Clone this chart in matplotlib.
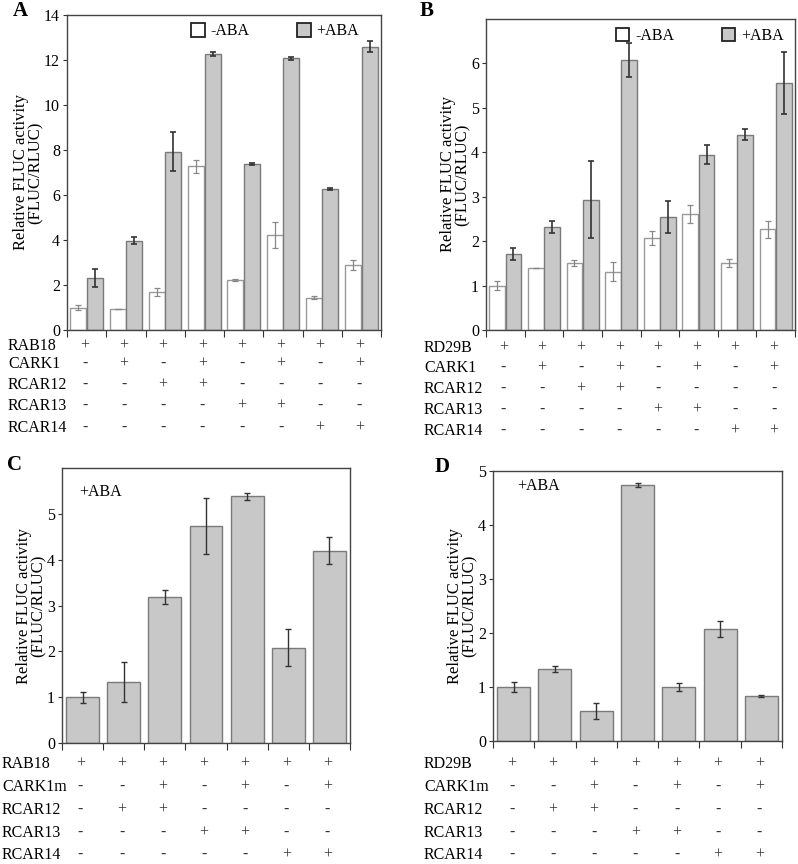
import numpy as np
import matplotlib
matplotlib.use("Agg")
import matplotlib.pyplot as plt
from matplotlib.patches import Patch
from matplotlib.transforms import blended_transform_factory

plt.rcParams['font.family'] = ['Liberation Serif', 'DejaVu Serif']

# panel A: RAB18 promoter, -ABA / +ABA
a_minus = [1.0, 0.92, 1.68, 7.28, 2.22, 4.22, 1.44, 2.90]
a_minus_err = [0.10, 0.0, 0.18, 0.28, 0.03, 0.56, 0.05, 0.22]
a_plus = [2.32, 3.97, 7.92, 12.26, 7.38, 12.07, 6.27, 12.60]
a_plus_err = [0.40, 0.15, 0.87, 0.10, 0.05, 0.08, 0.05, 0.25]
a_rows = ['RAB18', 'CARK1', 'RCAR12', 'RCAR13', 'RCAR14']
a_signs = [
    '++++++++',
    '-+-+-+-+',
    '--++----',
    '----++--',
    '------++',
]

# panel B: RD29B promoter, -ABA / +ABA
b_minus = [1.0, 1.39, 1.50, 1.31, 2.07, 2.61, 1.50, 2.27]
b_minus_err = [0.10, 0.0, 0.07, 0.21, 0.15, 0.20, 0.09, 0.19]
b_plus = [1.71, 2.32, 2.93, 6.08, 2.54, 3.95, 4.40, 5.56]
b_plus_err = [0.13, 0.13, 0.87, 0.38, 0.36, 0.21, 0.12, 0.70]
b_rows = ['RD29B', 'CARK1', 'RCAR12', 'RCAR13', 'RCAR14']
b_signs = a_signs

# panel C: RAB18 promoter, CARK1m, +ABA
c_vals = [1.0, 1.33, 3.18, 4.73, 5.38, 2.08, 4.20]
c_err = [0.12, 0.44, 0.15, 0.61, 0.08, 0.40, 0.30]
c_rows = ['RAB18', 'CARK1m', 'RCAR12', 'RCAR13', 'RCAR14']
c_signs = [
    '+++++++',
    '--+-+-+',
    '-++----',
    '---++--',
    '-----++',
]

# panel D: RD29B promoter, CARK1m, +ABA
d_vals = [1.0, 1.33, 0.56, 4.74, 1.0, 2.08, 0.83]
d_err = [0.10, 0.05, 0.15, 0.04, 0.08, 0.15, 0.02]
d_rows = ['RD29B', 'CARK1m', 'RCAR12', 'RCAR13', 'RCAR14']
d_signs = c_signs

GREY = '#c8c8c8'
EDGE = '#7a7a7a'
W, H = 798, 864

fig = plt.figure(figsize=(W / 100, H / 100), dpi=100)


def px_axes(left, top, right, bottom):
    return fig.add_axes([left / W, 1 - bottom / H, (right - left) / W, (bottom - top) / H])


def style(ax, n, ylim, yticks):
    ax.set_xlim(-0.5, n - 0.5)
    ax.set_ylim(*ylim)
    ax.set_yticks(yticks)
    ax.set_xticks(np.arange(n + 1) - 0.5)
    ax.set_xticklabels([])
    ax.tick_params(axis='y', direction='out', length=3, labelsize=11.5, pad=2, color='#333333')
    ax.tick_params(axis='x', direction='out', length=5, color='#333333')
    for s in ax.spines.values():
        s.set_color('#444444')
        s.set_linewidth(1.0)
    ax.set_ylabel('Relative FLUC activity\n(FLUC/RLUC)', fontsize=12, linespacing=0.85, labelpad=0.5)


def rows(ax, labels, signs, label_x, row_y, size=11.5):
    tr = blended_transform_factory(ax.transData, fig.transFigure)
    for lab, sg, y in zip(labels, signs, row_y):
        fig.text(label_x / W, 1 - y / H, lab, fontsize=size, ha='left', va='center')
        for i, ch in enumerate(sg):
            ax.text(i - 0.05, 1 - y / H, ch, transform=tr, fontsize=size, ha='center', va='center',
                    color='#333333', fontweight='bold' if ch == '-' else 'normal')


def grouped(ax, minus, minus_err, plus, plus_err):
    x = np.arange(len(minus))
    w = 0.41
    ax.bar(x - 0.21, minus, w, color='white', edgecolor='#999999', linewidth=1.0, zorder=2)
    ax.bar(x + 0.21, plus, w, color=GREY, edgecolor=EDGE, linewidth=1.0, zorder=2)
    ax.errorbar(x - 0.21, minus, yerr=minus_err, fmt='none', ecolor='#888888', elinewidth=0.9,
                capsize=2.3, capthick=0.9, zorder=3)
    ax.errorbar(x + 0.21, plus, yerr=plus_err, fmt='none', ecolor='#333333', elinewidth=1.2,
                capsize=2.3, capthick=1.2, zorder=3)


def single(ax, vals, err):
    x = np.arange(len(vals))
    ax.bar(x, vals, 0.8, color=GREY, edgecolor=EDGE, linewidth=1.0, zorder=2)
    ax.errorbar(x, vals, yerr=err, fmt='none', ecolor='#333333', elinewidth=1.0,
                capsize=2.5, capthick=1.0, zorder=3)


def legend(ax, anchor):
    handles = [Patch(facecolor='white', edgecolor='#222222', linewidth=1.3, label='-ABA'),
               Patch(facecolor=GREY, edgecolor='#222222', linewidth=1.3, label='+ABA')]
    ax.legend(handles=handles, ncol=2, frameon=False, loc='upper left', bbox_to_anchor=anchor,
              fontsize=11.5, handlelength=0.85, handleheight=0.95, handletextpad=0.35,
              columnspacing=3.0, borderaxespad=0, borderpad=0)


# A
axA = px_axes(67, 15, 381, 330)
grouped(axA, a_minus, a_minus_err, a_plus, a_plus_err)
style(axA, 8, (0, 14), range(0, 15, 2))
legend(axA, (0.395, 0.975))
rows(axA, a_rows, a_signs, 8, [346, 364, 385, 406, 428])
fig.text(13 / W, 1 - 11 / H, 'A', fontsize=15, fontweight='bold', va='center')

# B
axB = px_axes(486, 19, 795, 330)
grouped(axB, b_minus, b_minus_err, b_plus, b_plus_err)
style(axB, 8, (0, 7), range(0, 7))
legend(axB, (0.42, 0.972))
rows(axB, b_rows, b_signs, 424, [348, 368, 389, 410, 431])
fig.text(420 / W, 1 - 11 / H, 'B', fontsize=15, fontweight='bold', va='center')

# C
axC = px_axes(62, 468, 350, 743)
single(axC, c_vals, c_err)
style(axC, 7, (0, 6), range(0, 6))
axC.text(0.06, 0.913, '+ABA', transform=axC.transAxes, fontsize=11.5, va='center')
rows(axC, c_rows, c_signs, 2, [764, 787, 810, 833, 855])
fig.text(7 / W, 1 - 465 / H, 'C', fontsize=15, fontweight='bold', va='center')

# D
axD = px_axes(493, 471, 782, 741)
single(axD, d_vals, d_err)
style(axD, 7, (0, 5), range(0, 6))
axD.text(0.085, 0.944, '+ABA', transform=axD.transAxes, fontsize=11.5, va='center')
rows(axD, d_rows, d_signs, 424, [764, 787, 810, 833, 855])
fig.text(435 / W, 1 - 467 / H, 'D', fontsize=15, fontweight='bold', va='center')

fig.savefig('out.png', dpi=100)
